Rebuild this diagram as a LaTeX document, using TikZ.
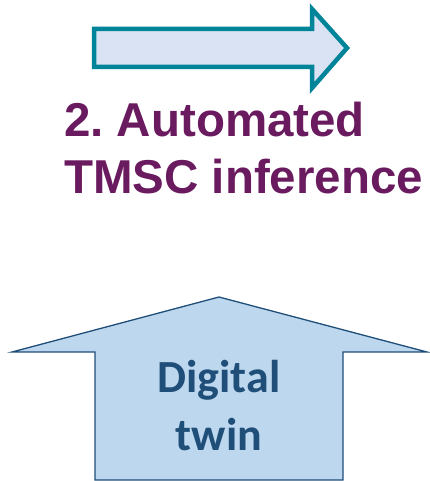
\documentclass[tikz,border=0pt]{standalone}
\usepackage{fontspec}
\setmainfont{Liberation Sans}
\newfontfamily\calibrifont{Carlito}
\frenchspacing
\definecolor{arrowteal}{HTML}{00849A}
\definecolor{arrowfill}{HTML}{DAE3F3}
\definecolor{titlepurple}{HTML}{6A1A5E}
\definecolor{twinfill}{HTML}{BDD7EE}
\definecolor{twinblue}{HTML}{1F4E79}
\tikzset{
  flowarrow/.style={draw=arrowteal, fill=arrowfill, line width=4.5pt, line join=miter},
  twinarrow/.style={draw=twinblue, fill=twinfill, line width=1.3pt, line join=miter},
  titletext/.style={text=titlepurple, font=\bfseries\fontsize{47.5}{56}\selectfont, align=left, inner sep=0pt},
  twintext/.style={text=twinblue, font=\calibrifont\bfseries\fontsize{46}{58}\selectfont, align=center, inner sep=0pt}
}
\begin{document}
\begin{tikzpicture}[x=1pt, y=-1pt]
  \useasboundingbox (0,0) rectangle (429,481);
  % right-pointing block arrow
  \draw[flowarrow] (94,29) -- (312,29) -- (312,9) -- (347,48) -- (312,88) -- (312,67) -- (94,67) -- cycle;
  % title (anchored on the baseline of its last line)
  \node[titletext, anchor=base west] (title) at (64,193) {2. Automated\\TMSC inference};
  % upward block arrow
  \draw[twinarrow] (219,297) -- (427,352) -- (343,352) -- (343,480) -- (95,480) -- (95,352) -- (12,352) -- cycle;
  \node[twintext, anchor=base] (twin) at (219,450) {Digital\\twin};
\end{tikzpicture}
\end{document}
